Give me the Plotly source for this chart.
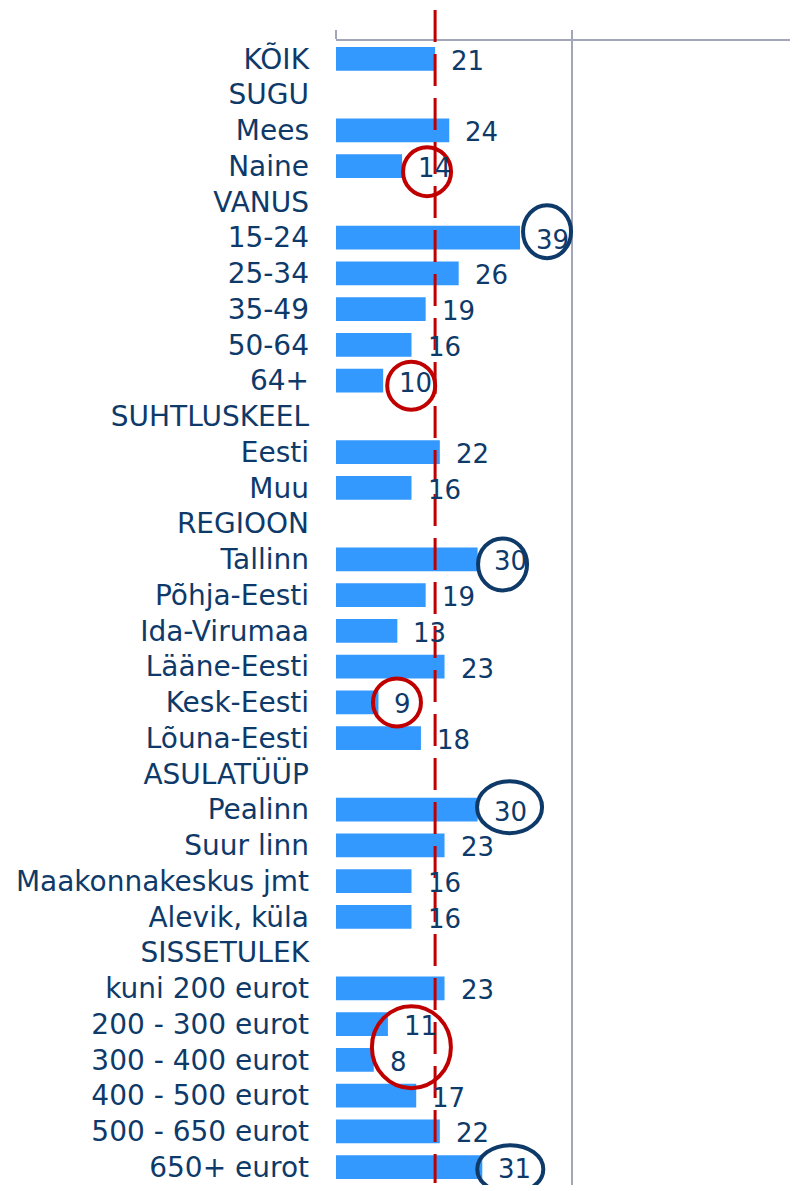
import plotly.graph_objects as go

categories = [
    "KÕIK", "SUGU", "Mees", "Naine", "VANUS", "15-24", "25-34", "35-49", "50-64", "64+",
    "SUHTLUSKEEL", "Eesti", "Muu", "REGIOON", "Tallinn", "Põhja-Eesti", "Ida-Virumaa",
    "Lääne-Eesti", "Kesk-Eesti", "Lõuna-Eesti", "ASULATÜÜP", "Pealinn", "Suur linn",
    "Maakonnakeskus jmt", "Alevik, küla", "SISSETULEK", "kuni 200 eurot", "200 - 300 eurot",
    "300 - 400 eurot", "400 - 500 eurot", "500 - 650 eurot", "650+ eurot",
]
values = [
    21, None, 24, 14, None, 39, 26, 19, 16, 10,
    None, 22, 16, None, 30, 19, 13,
    23, 9, 18, None, 30, 23,
    16, 16, None, 23, 11,
    8, 17, 22, 31,
]
average_value = 21

# highlighted categories
low_highlights = ["Naine", "64+", "Kesk-Eesti", "200 - 300 eurot"]
high_highlights = ["15-24", "Tallinn", "Pealinn", "650+ eurot"]

# circle geometry in pixels relative to bar end / row centre: dx, dy(down), rx, ry
circle_style = {
    "Naine": (25, 5.5, 24, 24.5),
    "64+": (28, 5, 24, 24),
    "Kesk-Eesti": (18.5, 0, 24, 24),
    "200 - 300 eurot": (23.5, 23, 39.5, 41),
    "15-24": (27, -6, 24, 26.5),
    "Tallinn": (25, 5, 24.5, 26),
    "Pealinn": (32, -2.5, 32.5, 26),
    "650+ eurot": (28, 2, 33, 24),
}

NAVY = "#0E3A6A"
BAR = "#3399FF"
RED = "#C00000"
GRID = "#A3A6B8"
FONT = "DejaVu Sans"

idx = list(range(len(categories)))

fig = go.Figure()
fig.add_trace(go.Bar(
    x=values, y=idx, orientation="h",
    marker=dict(color=BAR, line=dict(width=0)),
    width=0.67, hoverinfo="skip", showlegend=False,
))

for i, v in enumerate(values):
    if v is None:
        continue
    fig.add_annotation(
        x=v, y=i, xref="x", yref="y", text=str(v), showarrow=False,
        xanchor="left", yanchor="middle", xshift=14, yshift=-2,
        font=dict(family=FONT, size=26, color=NAVY),
    )

PLOT_TOP, PLOT_H = 33, 1144

# average line
fig.add_shape(
    type="line", xref="x", yref="paper", x0=average_value, x1=average_value,
    y0=1 + 31 / PLOT_H, y1=1 - (1183 - 41) / PLOT_H,
    line=dict(color=RED, width=3, dash="32px,12px"), layer="above",
)

for cat in low_highlights + high_highlights:
    i = categories.index(cat)
    v = values[i]
    dx, dy, rx, ry = circle_style[cat]
    color = RED if cat in low_highlights else NAVY
    fig.add_shape(
        type="circle", xref="x", yref="y",
        xsizemode="pixel", ysizemode="pixel", xanchor=v, yanchor=i,
        x0=dx - rx, x1=dx + rx, y0=ry - dy, y1=-ry - dy,
        line=dict(color=color, width=4), layer="above",
    )

fig.update_layout(
    width=798, height=1191,
    margin=dict(l=328, r=0, t=PLOT_TOP, b=1191 - PLOT_TOP - PLOT_H),
    paper_bgcolor="white", plot_bgcolor="white",
    bargap=0.33,
    xaxis=dict(
        side="top", range=[0, 99.6], tickvals=[0, 50, 100], showticklabels=False,
        ticks="outside", ticklen=9, tickwidth=2, tickcolor=GRID,
        showline=True, linecolor=GRID, linewidth=2,
        showgrid=True, gridcolor=GRID, gridwidth=2, zeroline=False, fixedrange=True,
    ),
    yaxis=dict(
        range=[len(categories) - 0.5, -0.5], tickvals=idx, ticktext=categories,
        tickfont=dict(family=FONT, size=28, color=NAVY), ticks="",
        ticklabelstandoff=26, showgrid=False, zeroline=False, showline=False,
    ),
)

fig.write_html("out.html")
